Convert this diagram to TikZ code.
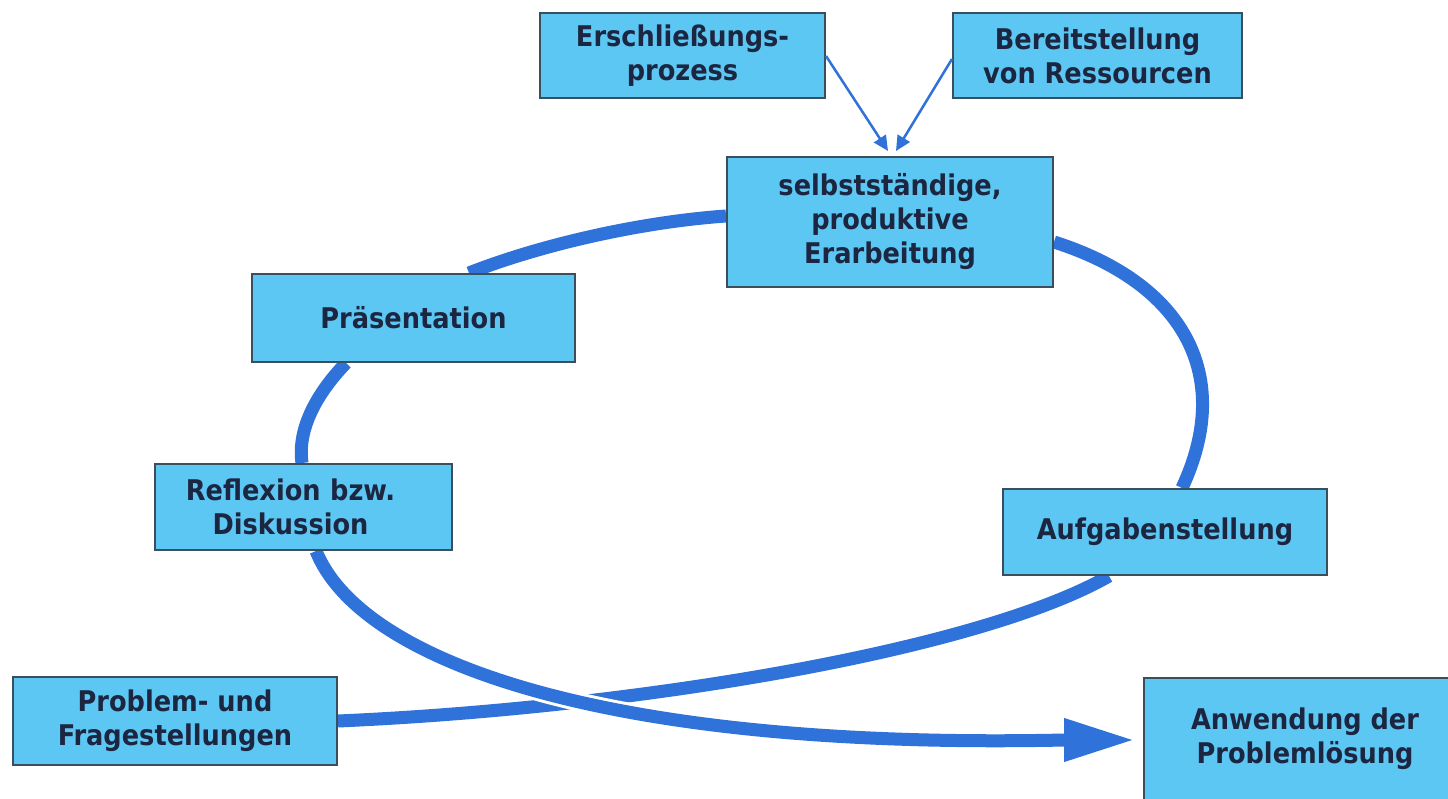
\documentclass[tikz,border=0pt]{standalone}
\usepackage{fontspec}
\setmainfont{DejaVu Sans Condensed}
\usetikzlibrary{arrows.meta,calc,backgrounds}
\definecolor{boxfill}{HTML}{5DC7F4}
\definecolor{boxline}{HTML}{3A4E5C}
\definecolor{txt}{HTML}{1C2640}
\definecolor{flow}{HTML}{2F72DA}
\tikzset{
  stepbox/.style={draw=boxline, line width=2pt, fill=boxfill, text=txt,
    font=\bfseries\fontsize{28.5}{34}\selectfont, align=center,
    minimum width=#1, inner sep=0pt},
  stepbox/.default=300pt,
  flowline/.style={draw=flow, line width=13pt},
  gapline/.style={draw=white, line width=19pt},
  thinarrow/.style={draw=flow, line width=2.5pt, -{Triangle[length=15pt,width=14pt]}}
}
\begin{document}
\begin{tikzpicture}[x=1pt,y=-1pt]
\useasboundingbox (0,0) rectangle (1448,799);
\node[stepbox=285pt, minimum height=85pt] (ersch) at (682.5,55.5) {Erschließungs-\\prozess};
\node[stepbox=289pt, minimum height=85pt] (bereit) at (1097.5,55.5) {Bereitstellung\\von Ressourcen};
\node[stepbox=326pt, minimum height=130pt] (selbst) at (890,222) {selbstständige,\\produktive\\Erarbeitung};
\node[stepbox=323pt, minimum height=88pt] (praes) at (413.5,318) {Präsentation};
\node[stepbox=297pt, minimum height=86pt, text width=297pt] (refl) at (303.5,507) {Reflexion bzw.\hspace*{26pt}\mbox{}\\Diskussion\hspace*{26pt}\mbox{}};
\node[stepbox=324pt, minimum height=86pt] (aufg) at (1165,532) {Aufgabenstellung};
\node[stepbox=324pt, minimum height=88pt] (prob) at (175,721) {Problem- und\\Fragestellungen};
\node[stepbox=322pt, minimum height=122pt] (anw) at (1305,739) {Anwendung der\\Problemlösung};
\begin{scope}[on background layer]
  \fill[white] (0,0) rectangle (1448,799);
  % Problem -> Aufgabenstellung
  \path[flowline] (prob.east) .. controls (637,708) and (980,650) .. ($(aufg.south west)+(107,0)$);
  % Aufgabenstellung -> selbst
  \path[flowline] ($(aufg.north west)+(180,0)$) .. controls (1235,375) and (1183,283) .. ($(selbst.north east)+(0,86)$);
  % selbst -> Praesentation
  \path[flowline] ($(selbst.north west)+(0,60)$) .. controls (640,222) and (540,245) .. ($(praes.north west)+(218,0)$);
  % Praesentation -> Reflexion
  \path[flowline] ($(praes.south west)+(95,0)$) .. controls (318,392) and (297,428) .. ($(refl.north west)+(148,0)$);
  % Reflexion -> Anwendung (crosses over)
  \path[gapline] ($(refl.south west)+(162,0)$) .. controls (360,660) and (600,750) .. (1065,740);
  \path[flowline] ($(refl.south west)+(162,0)$) .. controls (360,660) and (600,750) .. (1065,740);
\end{scope}
\coordinate (anwtip) at ($(anw.west)+(-8,1)$);
\draw[flow, line width=13pt, -{Triangle[length=71pt,width=40pt]}] (1064,740) -- (anwtip);
\coordinate (tipL) at ($(selbst.north)+(-2,-5)$);
\coordinate (tipR) at ($(selbst.north)+(6,-5)$);
\draw[thinarrow] ($(ersch.north east)+(0,44)$) -- (tipL);
\draw[thinarrow] ($(bereit.north west)+(0,47)$) -- (tipR);
\end{tikzpicture}
\end{document}
